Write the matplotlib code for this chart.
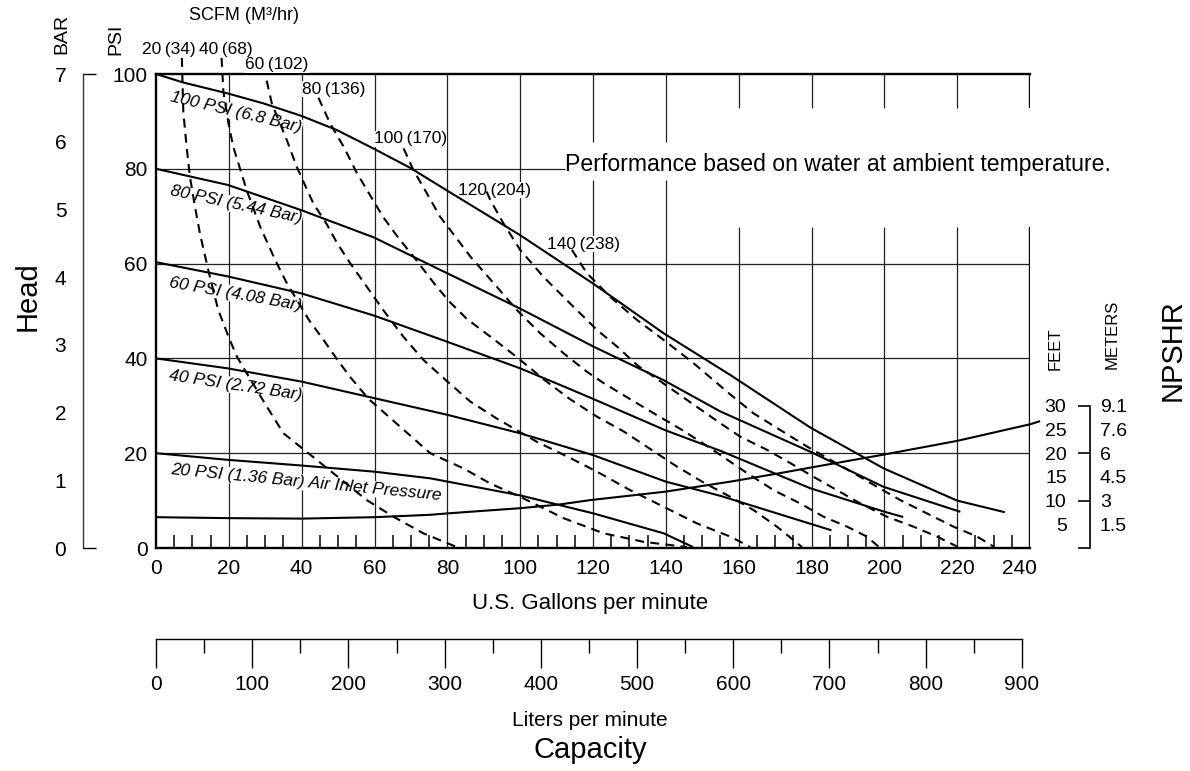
import matplotlib
matplotlib.use('Agg')
import matplotlib.pyplot as plt
from matplotlib.transforms import ScaledTranslation

plt.rcParams['font.family'] = ['Liberation Sans', 'DejaVu Sans']

# ---------------- data ----------------
gpm_ticks = list(range(0, 241, 20))
psi_ticks = [0, 20, 40, 60, 80, 100]
bar_ticks = [0, 1, 2, 3, 4, 5, 6, 7]
lpm_ticks = list(range(0, 901, 100))
lpm_minor = list(range(50, 900, 100))
npshr_feet = [5, 10, 15, 20, 25, 30]
npshr_meters = ['1.5', '3', '4.5', '6', '7.6', '9.1']

# air inlet pressure curves (GPM, head PSI)
p100_gpm = [0, 7.5, 19.7, 29.5, 39.8, 49.6, 59.9, 69.8, 80.8, 100, 120, 139.4, 157.7, 179.7, 199.8, 220, 232.8]
p100_psi = [100, 98.2, 95.9, 93.8, 91.2, 88.2, 84.2, 80.2, 75.0, 66, 55.8, 45.3, 36.5, 25.4, 16.8, 10, 7.6]
p80_gpm = [0, 19.7, 39.8, 59.9, 75.3, 100, 120.1, 139.4, 155, 179.7, 199.8, 220.6]
p80_psi = [80, 76.6, 71.3, 65.5, 59.7, 50.5, 42.5, 35.4, 28.8, 20.3, 12.9, 7.7]
p60_gpm = [0, 19.7, 40, 60, 80, 100, 111, 119.9, 140, 155, 179.7, 199.8, 204.9]
p60_psi = [60.3, 57.3, 53.7, 49, 43.5, 37.9, 34.4, 31.5, 24.8, 20.5, 12.6, 7.7, 6.6]
p40_gpm = [0, 19.7, 40, 60, 80, 100, 120, 140, 155, 185.2]
p40_psi = [40, 37.9, 35.1, 31.6, 28.1, 24.2, 19.6, 14.0, 11.0, 3.8]
p20_gpm = [0, 19.7, 40, 60, 75.3, 100, 120.1, 139.4, 147.2]
p20_psi = [20, 18.6, 17.4, 16.1, 14.7, 11.1, 7.3, 3.1, 0.3]

# air consumption curves SCFM (GPM, head PSI)
s20_gpm = [7.1, 7.5, 8.4, 9.3, 10.7, 12.1, 13.5, 14.8, 17.1, 19.9, 22.2, 24.9, 29.9, 35, 44.1, 57.9, 65.2, 73.4, 82.6]
s20_psi = [103.4, 92, 84.7, 78.4, 72, 66.2, 61.5, 57.2, 50.2, 44.6, 40.4, 36.9, 30.5, 24.2, 18.6, 10.1, 6.6, 3.1, 0.2]
s40_gpm = [18, 18.5, 19.9, 21.2, 22.6, 24.9, 28.6, 32.7, 35.9, 42, 46, 50, 53.3, 58.3, 75.3, 84.4, 91.8, 100, 111.9, 122.9, 133.9, 145.8]
s40_psi = [103.4, 96.3, 89.6, 84.7, 81.2, 75.5, 67.8, 60.8, 55.9, 48.1, 43.9, 39.5, 36.1, 31.5, 20, 16.8, 13.6, 10.8, 6.3, 3.1, 1.3, 0.2]
s60_gpm = [30.4, 31.8, 35.9, 38.6, 43.2, 46.9, 49.6, 53.3, 57.9, 62.4, 67.9, 73.4, 79.6, 86.3, 93.6, 104.6, 113.7, 121.1, 130.2, 139.4, 148.5, 157.7, 163.2]
s60_psi = [98.6, 93.8, 86.1, 80.5, 72.7, 68.3, 64.5, 60.1, 55.1, 50.2, 44.6, 39.7, 35.4, 30.9, 27.3, 22.4, 19.0, 16.1, 12.2, 8.7, 5.2, 2.4, 0.2]
s80_gpm = [44.6, 47.8, 51.5, 55.1, 58.8, 62.4, 66.1, 71.6, 77.1, 80.8, 85.4, 91.8, 98.2, 102.7, 106.4, 113.7, 121.1, 128.4, 135.7, 143, 150.4, 157.7, 164.1, 170.5, 177.4]
s80_psi = [95, 89.6, 84.7, 79.2, 74.4, 69.8, 65.9, 60.6, 55.1, 51.8, 48.3, 44.6, 40.8, 38.0, 35.6, 31.4, 27.7, 24.6, 20.9, 17.2, 13.8, 10.8, 8, 4.5, 0.2]
s100_gpm = [68, 70.7, 74.4, 78, 80.8, 86.3, 93.6, 99.1, 105.5, 111.9, 118.3, 122.9, 130.2, 137.6, 144.9, 153.1, 162.3, 169.6, 176.9, 183.3, 189.8, 195.2, 198.4]
s100_psi = [84.3, 79.7, 74.8, 69.9, 67.1, 61.5, 55.1, 50.2, 45.3, 41.1, 37.2, 34.8, 31.4, 28, 24.7, 20.6, 15.8, 12.2, 9.4, 6.6, 4.5, 2.4, 0.3]
s120_gpm = [90.8, 91.8, 95.4, 100, 106.4, 113.7, 121.1, 126.6, 132.1, 155, 160.4, 167.8, 174.2, 180.6, 187, 193.4, 200.7, 208, 214.5, 220]
s120_psi = [75.2, 73.4, 68.5, 62.9, 57.2, 51.6, 46, 42.5, 38.6, 26.3, 23.5, 20.7, 17.9, 15, 12.2, 9.4, 6.6, 4.5, 2.4, 0.3]
s140_gpm = [114.2, 118.3, 124.7, 132.1, 139.4, 147.6, 153.1, 157.7, 164.1, 171.4, 178.8, 185.2, 191.6, 198, 204.4, 211.7, 219, 225.5, 230]
s140_psi = [62.9, 58, 53, 48.1, 43.9, 39, 35.4, 32.4, 28.4, 24.9, 21.4, 18.6, 15.8, 12.9, 10.1, 7.3, 4.5, 2.4, 0.3]

# NPSHR curve (GPM, feet)
npshr_gpm = [0, 20, 40, 60, 75.3, 80, 100, 111, 119.2, 140, 157.7, 171.4, 180, 199.8, 220, 240, 242.5]
npshr_ft = [6.5, 6.3, 6.2, 6.5, 7.0, 7.3, 8.4, 9.2, 10.1, 11.9, 14.0, 15.8, 17.0, 19.7, 22.6, 26.1, 26.7]

pressure_labels = ['100 PSI (6.8 Bar)', '80 PSI (5.44 Bar)', '60 PSI (4.08 Bar)',
                   '40 PSI (2.72 Bar)', '20 PSI (1.36 Bar) Air Inlet Pressure']
scfm_labels = ['20\u2009(34)', '40\u2009(68)', '60\u2009(102)', '80\u2009(136)',
               '100\u2009(170)', '120\u2009(204)', '140\u2009(238)']

# ---------------- layout helpers ----------------
W, H = 1190, 771
def fx(px):
    return px / W
def fy(py):
    return 1 - py / H

L, R, T, B = 156, 1030, 74, 548

fig = plt.figure(figsize=(11.9, 7.71), dpi=100)
ax = fig.add_axes([fx(L), fy(B), fx(R) - fx(L), fy(T) - fy(B)])
ax.set_xlim(0, 240)
ax.set_ylim(0, 100)
ax.patch.set_alpha(0)
for s in ['top', 'left', 'bottom']:
    ax.spines[s].set_linewidth(1.7)
ax.spines['right'].set_visible(False)
ax.set_xticks(gpm_ticks)
ax.set_xticklabels([str(v) for v in gpm_ticks])
ax.set_yticks(psi_ticks)
ax.set_yticklabels([str(v) for v in psi_ticks])
ax.tick_params(axis='both', which='major', length=0, labelsize=15)
ax.tick_params(axis='x', which='major', pad=8)
ax.tick_params(axis='y', which='major', pad=6)
ax.set_xticks([v for v in range(5, 240, 5) if v % 20], minor=True)
ax.tick_params(axis='x', which='minor', direction='in', length=9.5, width=1.1)
last = ax.xaxis.get_major_ticks()[-1].label1
last.set_transform(last.get_transform() + ScaledTranslation(-0.11, 0, fig.dpi_scale_trans))

# grid (partly interrupted behind the note text)
gc = '#222222'
for xv in gpm_ticks[1:-1]:
    if xv <= 100:
        ax.vlines(xv, 0, 100, color=gc, lw=0.9, zorder=1)
    elif xv <= 140:
        ax.vlines(xv, 0, 77.6, color=gc, lw=0.9, zorder=1)
        ax.vlines(xv, 85.65, 100, color=gc, lw=0.9, zorder=1)
    else:
        ax.vlines(xv, 0, 67.7, color=gc, lw=0.9, zorder=1)
        ax.vlines(xv, 92.8, 100, color=gc, lw=0.9, zorder=1)
ax.vlines(240, 0, 67.7, color='black', lw=1.7, zorder=1)
ax.vlines(240, 92.8, 100, color='black', lw=1.7, zorder=1)
for yv in psi_ticks[1:-1]:
    if yv == 80:
        ax.hlines(yv, 0, 112.4, color=gc, lw=0.9, zorder=1)
    else:
        ax.hlines(yv, 0, 240, color=gc, lw=0.9, zorder=1)

# solid pressure curves
for gx, gy in [(p100_gpm, p100_psi), (p80_gpm, p80_psi), (p60_gpm, p60_psi),
               (p40_gpm, p40_psi), (p20_gpm, p20_psi)]:
    ax.plot(gx, gy, color='black', lw=1.5, zorder=4, solid_joinstyle='round')

# NPSHR curve
ax.plot(npshr_gpm, npshr_ft, color='black', lw=1.5, zorder=4, clip_on=False)

# dashed SCFM curves
for gx, gy in [(s20_gpm, s20_psi), (s40_gpm, s40_psi), (s60_gpm, s60_psi), (s80_gpm, s80_psi),
               (s100_gpm, s100_psi), (s120_gpm, s120_psi), (s140_gpm, s140_psi)]:
    ax.plot(gx, gy, color='black', lw=1.5, ls=(0, (4.3, 3.0)), zorder=4, clip_on=False)

# pressure labels
plab_pos = [(22, 91.9, -13.4), (22, 72.4, -12), (21.7, 53.6, -10), (21.7, 34.3, -8.5), (41.2, 13.8, -5.5)]
for txt, (px_, py_, rot) in zip(pressure_labels, plab_pos):
    ax.text(px_, py_, txt, rotation=rot, rotation_mode='anchor', ha='center', va='center',
            fontsize=12.5, style='italic', zorder=3,
            bbox=dict(facecolor='white', edgecolor='none', pad=0.5))

# SCFM labels
slab_pos = [(3.6, 105.1), (19.2, 105.1), (33.2, 101.9), (48.9, 96.8), (69.8, 86.3), (92.9, 75.5), (117.3, 64.1)]
for txt, (px_, py_) in zip(scfm_labels, slab_pos):
    ax.text(px_, py_, txt, ha='center', va='center', fontsize=12.5, zorder=3, clip_on=False,
            bbox=dict(facecolor='white', edgecolor='none', pad=0.3))

ax.text(112.4, 81, 'Performance based on water at ambient temperature.', ha='left', va='center',
        fontsize=16.6, zorder=3, clip_on=False)

# BAR scale
axb = fig.add_axes([fx(83), fy(B), 0.0001, fy(T) - fy(B)])
axb.set_ylim(0, 7)
axb.patch.set_alpha(0)
for s in ['top', 'right', 'bottom']:
    axb.spines[s].set_visible(False)
axb.spines['left'].set_linewidth(1.0)
axb.spines['left'].set_color('#333333')
axb.set_xticks([])
axb.set_yticks([bar_ticks[0], bar_ticks[-1]])
axb.set_yticklabels([str(bar_ticks[0]), str(bar_ticks[-1])])
axb.set_yticks(bar_ticks[1:-1], minor=True)
axb.set_yticklabels([str(v) for v in bar_ticks[1:-1]], minor=True)
axb.tick_params(axis='y', which='major', direction='in', length=9, width=1.0, pad=12, labelsize=15)
axb.tick_params(axis='y', which='minor', length=0, pad=12, labelsize=15)

# NPSHR scale (feet share the pixel scale of PSI)
axn = fig.add_axes([fx(1090), fy(B), 0.0001, fy(T) - fy(B)])
axn.set_ylim(0, 100)
axn.patch.set_alpha(0)
for s in ['top', 'right', 'bottom']:
    axn.spines[s].set_visible(False)
axn.spines['left'].set_bounds(0, 30)
axn.spines['left'].set_linewidth(1.2)
axn.set_xticks([])
axn.set_yticks([0] + npshr_feet[1::2])
axn.set_yticklabels([''] + [str(v) for v in npshr_feet[1::2]])
axn.set_yticks(npshr_feet[0::2], minor=True)
axn.set_yticklabels([str(v) for v in npshr_feet[0::2]], minor=True)
axn.tick_params(axis='y', which='major', direction='out', length=9, width=1.2, pad=8, labelsize=14)
axn.tick_params(axis='y', which='minor', length=0, pad=16.5, labelsize=14)
axm = axn.twinx()
axm.set_ylim(0, 100)
for s in ['top', 'right', 'bottom', 'left']:
    axm.spines[s].set_visible(False)
axm.set_yticks(npshr_feet)
axm.set_yticklabels(npshr_meters)
axm.tick_params(axis='y', length=0, pad=7, labelsize=14)

# liters per minute scale
axl = fig.add_axes([fx(L), fy(639), fx(R) - fx(L), 0.0001])
axl.set_xlim(0, 240 * 3.78541)
axl.patch.set_alpha(0)
for s in ['top', 'right', 'left']:
    axl.spines[s].set_visible(False)
axl.spines['bottom'].set_bounds(0, 900)
axl.spines['bottom'].set_linewidth(1.0)
axl.set_yticks([])
axl.set_xticks(lpm_ticks)
axl.set_xticklabels([str(v) for v in lpm_ticks])
axl.set_xticks(lpm_minor, minor=True)
axl.tick_params(axis='x', which='major', direction='out', length=21, width=1.0, pad=5, labelsize=15)
axl.tick_params(axis='x', which='minor', direction='out', length=10, width=1.0)

# titles
fig.text(fx(590), fy(604), 'U.S. Gallons per minute', ha='center', va='center', fontsize=16)
fig.text(fx(590), fy(720), 'Liters per minute', ha='center', va='center', fontsize=15)
fig.text(fx(590), fy(750), 'Capacity', ha='center', va='center', fontsize=21)
fig.text(fx(28), fy(296), 'Head', rotation=90, ha='center', va='center', fontsize=21)
fig.text(fx(62), fy(34), 'BAR', rotation=90, ha='center', va='center', fontsize=14)
fig.text(fx(116), fy(39), 'PSI', rotation=90, ha='center', va='center', fontsize=14)
fig.text(fx(244), fy(16), 'SCFM (M³/hr)', ha='center', va='center', fontsize=13)
fig.text(fx(1055), fy(349), 'FEET', rotation=90, ha='center', va='center', fontsize=12)
fig.text(fx(1112), fy(334), 'METERS', rotation=90, ha='center', va='center', fontsize=12)
fig.text(fx(1173), fy(350), 'NPSHR', rotation=90, ha='center', va='center', fontsize=21)

fig.savefig('out.png', dpi=100)
